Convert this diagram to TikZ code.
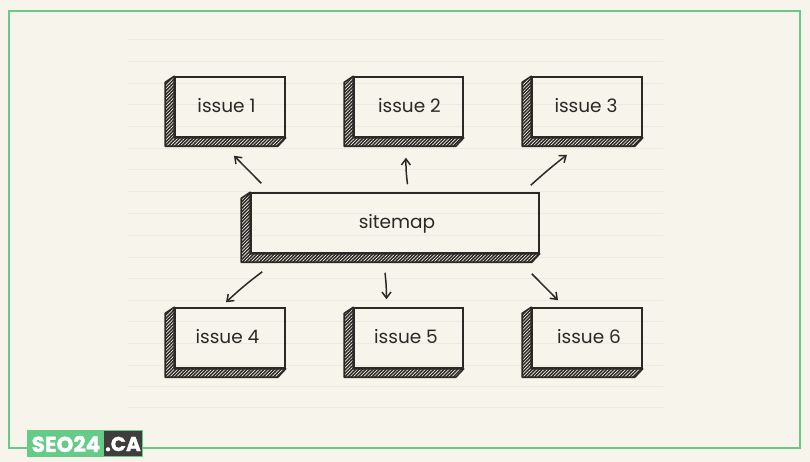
\documentclass[tikz,border=0pt]{standalone}
\usepackage{fontspec}
\setmainfont{Poppins}
\usetikzlibrary{calc,patterns.meta,arrows.meta}
\definecolor{paper}{HTML}{F7F4EC}
\definecolor{rule}{HTML}{ECEBE2}
\definecolor{ink}{HTML}{2B2926}
\definecolor{frame}{HTML}{66CB88}
\tikzset{
  front/.style={draw=ink,line width=1.5pt,inner sep=0pt,font=\fontsize{18.5}{22}\selectfont,text=ink},
  side/.style={draw=ink,line width=1.6pt,line join=round,preaction={fill=ink},
    pattern={Lines[angle=45,distance=2.4pt,line width=.65pt]},pattern color=paper},
  link/.style={draw=ink,line width=1.5pt,-{Straight Barb[length=6pt,width=9pt]}},
  brandtext/.style={inner sep=0pt,text=white,font=\bfseries\fontsize{#1}{24}\selectfont\addfontfeature{FakeBold=1.5}}
}
\newcommand{\sheet}[5]{%
  \node[front,minimum width=#4pt,minimum height=60pt,text height=11pt,text depth=0pt] (#1) at (#2,#3) {#5};
  \draw[side] (#1.north west) -- ++(-9,6) -- ($(#1.south west)+(-9,8.5)$)
    -- ($(#1.south east)+(-8,8.5)$) -- (#1.south east) -- (#1.south west) -- cycle;
}
\begin{document}
\begin{tikzpicture}[x=1pt,y=-1pt]
  \useasboundingbox[fill=paper] (0,0) rectangle (810,462);
  \foreach \y in {40,62,84,105,127,149,170,192,214,235,257,278,300,321,343,365,386,407}
    \draw[rule,line width=1pt] (127,\y) -- (663,\y);
  \draw[frame,line width=2pt] (9,11) rectangle (800,448);
  \sheet{issue1}{230}{107}{110}{\hspace*{-7pt}issue 1}
  \sheet{issue2}{408.5}{107}{109}{\hspace*{2pt}issue 2}
  \sheet{issue3}{587}{107}{110}{\hspace*{-2pt}issue 3}
  \sheet{sitemap}{395}{223}{288}{\hspace*{4pt}sitemap}
  \sheet{issue4}{230}{338}{110}{\hspace*{-5pt}issue 4}
  \sheet{issue5}{408.5}{338}{109}{\hspace*{-5pt}issue 5}
  \sheet{issue6}{587}{338}{110}{\hspace*{4pt}issue 6}
  \draw[link] ([shift={(11pt,9pt)}]sitemap.north west) -- ([shift={(4pt,-18pt)}]issue1.south);
  \draw[link] ([shift={(12.5pt,8pt)}]sitemap.north) to[bend left=4] ([shift={(-2.5pt,-20pt)}]issue2.south);
  \draw[link] ([shift={(-9pt,7pt)}]sitemap.north east) to[bend left=2] ([shift={(-20pt,-17pt)}]issue3.south);
  \draw[link] ([shift={(12pt,-18pt)}]sitemap.south west) to[bend right=3] ([shift={(-4pt,5pt)}]issue4.north);
  \draw[link] ([shift={(-10pt,-19pt)}]sitemap.south) to[bend left=3] ([shift={(-22pt,8pt)}]issue5.north);
  \draw[link] ([shift={(-8pt,-20pt)}]sitemap.south east) -- ([shift={(-29pt,7pt)}]issue6.north);
  \fill[frame] (27,430) rectangle (143,457);
  \fill[ink!90] (104,431) rectangle (142,456);
  \node[brandtext=21.5] (brand) at (66,444) {SEO24};
  \node[brandtext=20] (tld) at (123,444) {.CA};
\end{tikzpicture}
\end{document}
